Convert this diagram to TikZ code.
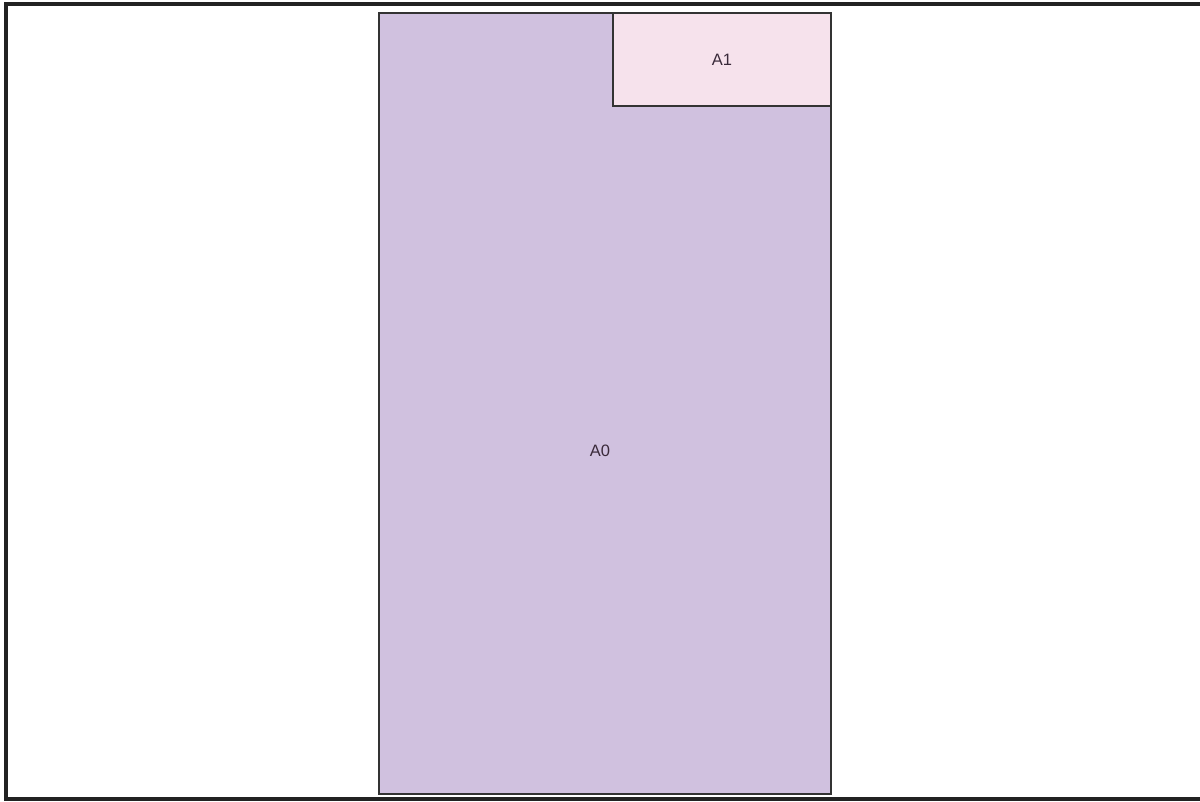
\documentclass[tikz,border=0pt]{standalone}
\usepackage{fontspec}
\setmainfont{Liberation Sans}
\definecolor{aback}{HTML}{D0C1DF}
\definecolor{aone}{HTML}{F6E2EC}
\definecolor{edge}{HTML}{333333}
\definecolor{frame}{HTML}{222222}
\definecolor{txt}{HTML}{3A2A3A}
\tikzset{
  region/.style={draw=edge, line width=1.2pt},
  lbl/.style={font=\fontsize{16.5}{19}\selectfont, text=txt, inner sep=0pt},
}
\begin{document}
\begin{tikzpicture}[x=1pt,y=-1pt]
\useasboundingbox (0,0) rectangle (1200,801);
\fill[white] (0,0) rectangle (1200,801);
% outer frame (left, top, bottom)
\draw[frame, line width=4pt] (1200,4) -- (5.5,4) -- (5.5,798.5) -- (1200,798.5);
% A0
\draw[region, fill=aback] (379,13) rectangle (831,794);
\node[lbl] (a0) at (600,451) {A0};
% A1
\draw[region, fill=aone] (613,13) rectangle (831,106);
\node[lbl] (a1) at (722,60) {A1};
\end{tikzpicture}
\end{document}
